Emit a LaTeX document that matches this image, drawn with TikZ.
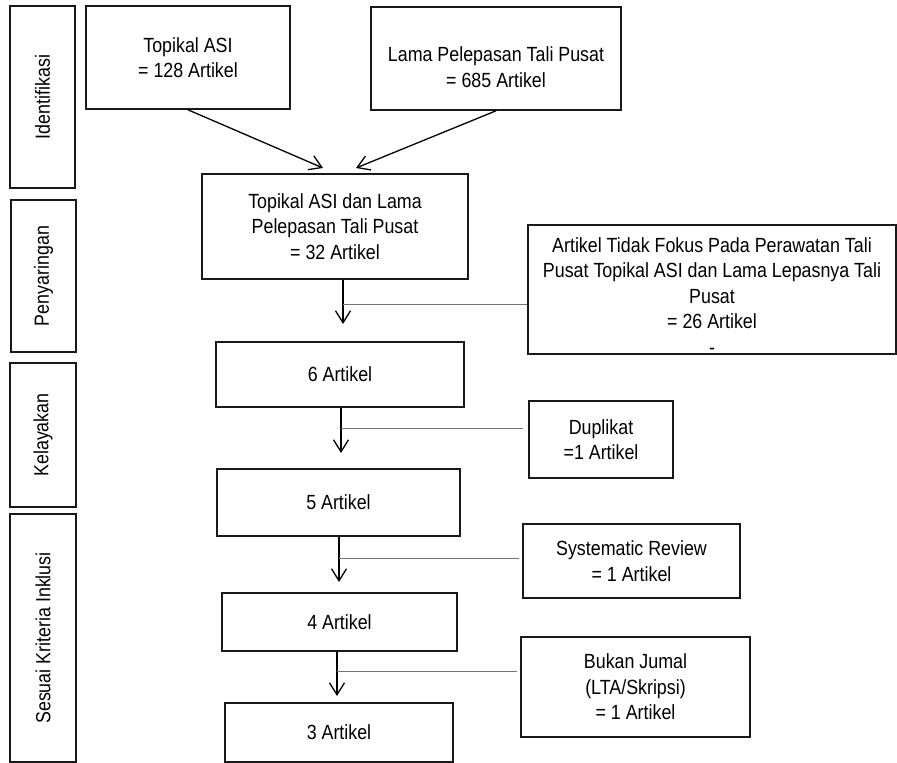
\documentclass[tikz,border=0pt]{standalone}
\usepackage{fontspec}
\setmainfont[FakeStretch=0.87]{Liberation Sans}
\usetikzlibrary{arrows.meta}
\tikzset{box/.style={draw=black!90, line width=1.6pt, align=center, inner sep=0pt,
   font=\fontsize{20.5}{25.5}\selectfont},
 stage/.style={box, rotate=90},
 flow/.style={-{Straight Barb[length=12pt,width=15pt,line width=1.3pt]}, line width=1.3pt},
 side/.style={draw=black!55, line width=1pt},
 }

\begin{document}
\begin{tikzpicture}[x=1pt,y=-1pt]
        \useasboundingbox (0,0) rectangle (897,763);
        % stages on the left
        \node[stage, minimum width=182pt, minimum height=65pt] (idf) at (42.5,97) {Identifikasi};
        \node[stage, minimum width=152pt, minimum height=65pt] (pny) at (43.5,276) {Penyaringan};
        \node[stage, minimum width=144pt, minimum height=66pt] (kel) at (43,435) {Kelayakan};
        \node[stage, minimum width=248pt, minimum height=66pt] (ski) at (43,638) {Sesuai Kriteria Inklusi};
        % main flow
        \node[box, minimum width=204pt, minimum height=103pt] (topikal) at (188,57.5) {Topikal ASI\\= 128 Artikel};
        \node[box, minimum width=250pt, minimum height=103pt] (lama) at (496,58.5) {\rule{0pt}{32pt}Lama Pelepasan Tali Pusat\\= 685 Artikel};
        \node[box, minimum width=266pt, minimum height=105pt] (gabung) at (335,226.5) {Topikal ASI dan Lama\\Pelepasan Tali Pusat\\= 32 Artikel};
        \node[box, minimum width=248pt, minimum height=65pt] (a6) at (340,374.5) {6 Artikel};
        \node[box, minimum width=243pt, minimum height=67pt] (a5) at (338.5,502.5) {5 Artikel};
        \node[box, minimum width=235pt, minimum height=58pt] (a4) at (339.5,622) {4 Artikel};
        \node[box, minimum width=228pt, minimum height=59pt] (a3) at (339,732.5) {3 Artikel};
        % excluded
        \node[box, minimum width=368pt, minimum height=125pt] (fokus) at (712,289.5) {\rule{0pt}{27pt}Artikel Tidak Fokus Pada Perawatan Tali\\Pusat Topikal ASI dan Lama Lepasnya Tali\\Pusat\\= 26 Artikel\\-};
        \node[box, minimum width=144pt, minimum height=77pt] (dup) at (601,439.5) {Duplikat\\=1 Artikel};
        \node[box, minimum width=217pt, minimum height=74pt] (sr) at (631.5,561) {Systematic Review\\= 1 Artikel};
        \node[box, minimum width=229pt, minimum height=100pt] (bj) at (635.5,687) {Bukan Jumal\\(LTA/Skripsi)\\= 1 Artikel};
        % arrows
        \coordinate (g1) at (323,168);
        \coordinate (g2) at (356,168);
        \draw[flow] (topikal.south) -- (g1);
        \draw[flow] (lama.south) -- (g2);
        \coordinate (e1) at (343,324);
        \coordinate (e2) at (341,453);
        \coordinate (e3) at (339,582);
        \coordinate (e4) at (337,696);
        \draw[flow] (e1 |- gabung.south) -- (e1);
        \draw[flow] (e2 |- a6.south) -- (e2);
        \draw[flow] (e3 |- a5.south) -- (e3);
        \draw[flow] (e4 |- a4.south) -- (e4);
        \coordinate (s1) at (343,304);
        \coordinate (s2) at (341,428);
        \coordinate (s3) at (339,558);
        \coordinate (s4) at (337,671);
        \draw[side] (s1) -- (s1 -| fokus.west);
        \draw[side, shorten >=5pt] (s2) -- (s2 -| dup.west);
        \draw[side, shorten >=3pt] (s3) -- (s3 -| sr.west);
        \draw[side, shorten >=3pt] (s4) -- (s4 -| bj.west);
    \end{tikzpicture}
\end{document}
